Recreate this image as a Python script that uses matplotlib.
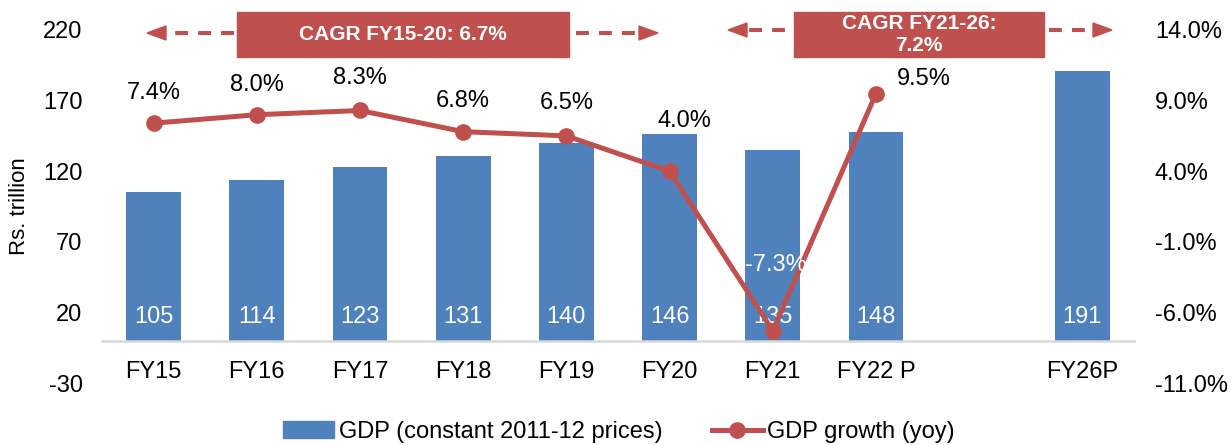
import numpy as np
import matplotlib
matplotlib.use("Agg")
import matplotlib.pyplot as plt
from matplotlib.lines import Line2D
from matplotlib.patches import Rectangle, Polygon

plt.rcParams['font.family'] = ['Liberation Sans', 'DejaVu Sans']
plt.rcParams['axes.unicode_minus'] = False

# данные
categories = ['FY15', 'FY16', 'FY17', 'FY18', 'FY19', 'FY20', 'FY21', 'FY22 P', '', 'FY26P']
gdp = [105, 114, 123, 131, 140, 146, 135, 148, np.nan, 191]
growth = [7.4, 8.0, 8.3, 6.8, 6.5, 4.0, -7.3, 9.5, np.nan, np.nan]
left_ticks = [-30, 20, 70, 120, 170, 220]
right_ticks = [-11, -6, -1, 4, 9, 14]
cagr_texts = ['CAGR FY15-20: 6.7%', 'CAGR FY21-26:\n7.2%']

blue = '#4F81BD'
red = '#C0504D'
W, H = 1231, 445

fig = plt.figure(figsize=(W / 100, H / 100), dpi=100)
ax = fig.add_axes([102 / W, 1 - 383 / H, (1134 - 102) / W, (383 - 30) / H])
ax2 = ax.twinx()

x = np.arange(len(categories))
ax.bar(x, gdp, width=0.53, color=blue, zorder=2)
ax.set_xlim(-0.5, len(categories) - 0.5)
ax.set_ylim(-30, 220)
ax.set_yticks(left_ticks)
ax.set_xticks(x)
ax.set_xticklabels(categories)

for s in ['top', 'left', 'right']:
    ax.spines[s].set_visible(False)
    ax2.spines[s].set_visible(False)
ax2.spines['bottom'].set_visible(False)
ax.spines['bottom'].set_position(('data', 0))
ax.spines['bottom'].set_color('#D9D9D9')
ax.spines['bottom'].set_linewidth(1.8)
ax.tick_params(axis='x', length=0, pad=15, labelsize=17)
ax.tick_params(axis='y', length=0, pad=14, labelsize=17)

# подписи столбцов
for i, v in enumerate(gdp):
    if not np.isnan(v):
        ax.annotate(f'{v:.0f}', (x[i], 0), xytext=(0, 17), textcoords='offset points',
                    ha='center', va='center', color='white', fontsize=17, zorder=5)

ax2.plot(x, growth, color=red, lw=3.6, marker='o', markersize=11, zorder=3)
ax2.set_ylim(-11, 14)
ax2.set_yticks(right_ticks)
ax2.set_yticklabels([f'{t:.1f}%' for t in right_ticks])
ax2.tick_params(axis='y', length=0, pad=15, labelsize=17)

# смещения подписей роста (пиксели)
offsets = [(0, 30), (0, 30), (0, 32), (0, 31), (0, 33), (15, 50), (3, 66), (48, 15)]
for i, (dx, dy) in enumerate(offsets):
    ax2.annotate(f'{growth[i]:.1f}%', (x[i], growth[i]), xytext=(dx * 0.72, dy * 0.72),
                 textcoords='offset points', ha='center', va='center', fontsize=17,
                 color='white' if growth[i] < 0 else 'black', zorder=6)

fig.text(20 / W, 1 - 206 / H, 'Rs. trillion', rotation=90, ha='center', va='center', fontsize=16)


def fx(px):
    return px / W


def fy(py):
    return 1 - py / H


def arrow(x0, x1, y, tip):
    # пунктир + треугольный наконечник
    fig.add_artist(Line2D([fx(x0), fx(x1)], [fy(y), fy(y)], color=red, lw=2.9,
                          linestyle=(0, (3.2, 2.5)), transform=fig.transFigure))
    d = 19 if tip > x1 else -19
    base = tip - d
    fig.add_artist(Polygon([(fx(tip), fy(y)), (fx(base), fy(y - 7)), (fx(base), fy(y + 7))],
                           closed=True, color=red, transform=fig.transFigure))


# CAGR блоки
boxes = [(237, 569), (794, 1044)]
for (bx0, bx1), txt in zip(boxes, cagr_texts):
    fig.add_artist(Rectangle((fx(bx0), fy(57)), fx(bx1 - bx0), (57 - 12) / H, color=red,
                             transform=fig.transFigure))
    fig.text(fx((bx0 + bx1) / 2), fy(34.5), txt, ha='center', va='center', color='white',
             fontsize=15, fontweight='bold', linespacing=1.25)

arrow(234, 165, 33, 147)
arrow(576, 640, 33, 658)
arrow(785, 745, 30, 728)
arrow(1049, 1095, 30, 1112)

handles = [Rectangle((0, 0), 1, 1, color=blue),
           Line2D([], [], color=red, lw=3.6, marker='o', markersize=11)]
fig.legend(handles, ['GDP (constant 2011-12 prices)', 'GDP growth (yoy)'], loc='center',
           bbox_to_anchor=(0.503, 1 - 432 / H), ncol=2, frameon=False, fontsize=17,
           handlelength=2.15, handletextpad=0.2, columnspacing=2.1)

fig.savefig('out.png', dpi=100)
